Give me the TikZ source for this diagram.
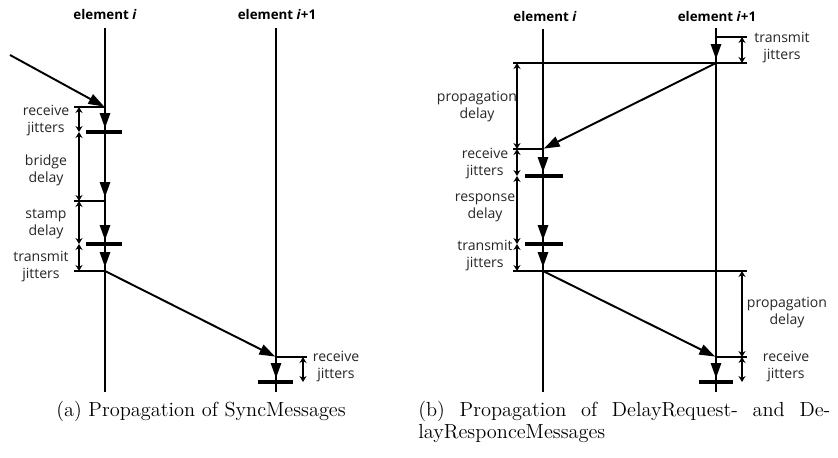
\documentclass[tikz,border=0pt]{standalone}
\usepackage{fontspec}
\newfontfamily\lblfont{Open Sans}
\usetikzlibrary{arrows.meta, positioning}
\tikzset{
  lifeline/.style={line width=1.1pt},
  hop/.style={line width=1.1pt, -{Triangle[length=9pt, width=6pt]}, shorten >=0.5pt},
  seg/.style={line width=1.1pt, -{Triangle[length=8.5pt, width=5.8pt]}, shorten >=2.2pt},
  tickline/.style={line width=0.8pt},
  stampbar/.style={line width=2.3pt},
  dim/.style={line width=0.8pt, {Stealth[length=3.4pt, width=4pt]}-{Stealth[length=3.4pt, width=4pt]}},
  elem/.style={font=\lblfont\bfseries\fontsize{7.6pt}{9pt}\selectfont, inner sep=1pt},
  note/.style={font=\lblfont\fontsize{8pt}{9.7pt}\selectfont, align=center, inner sep=1pt, text=black!85},
  capt/.style={font=\fontsize{11.6pt}{14pt}\selectfont, inner sep=0pt}
}
\begin{document}
\begin{tikzpicture}[x=0.02cm, y=-0.02cm]
\useasboundingbox (0,0) rectangle (838,457);
% ---------- (a) SyncMessages ----------
\node[elem] (ai) at (105,14) {element \textit{i}};
\node[elem] (aj) at (277,14) {element \textit{i}+1};
\coordinate (aiend) at (105,392);
\coordinate (ajend) at (276,392);
\draw[lifeline] (105,28) -- (aiend);
\draw[lifeline] (276,28) -- (ajend);
% events on element i
\coordinate (asrc) at (10,55);
\coordinate (arx) at (105,107);
\coordinate (arxb) at (105,132);
\coordinate (abr) at (105,201);
\coordinate (ast) at (105,244);
\coordinate (atx) at (105,271);
% events on element i+1
\coordinate (brx) at (276,357);
\coordinate (brxb) at (276,382);
\draw[hop] (asrc) -- (arx);
\draw[seg] (arx) -- (arxb);
\draw[seg] (arxb) -- (abr);
\draw[seg] (abr) -- (ast);
\draw[seg] (ast) -- (atx);
\draw[hop] (atx) -- (brx);
\draw[seg] (brx) -- (brxb);
% ticks and bars
\draw[tickline] (arx) -- ++(-31,0);
\draw[tickline] (abr) -- ++(-31,0);
\draw[tickline] (atx) -- ++(-31,0);
\draw[tickline] (brx) -- ++(31,0);
\draw[stampbar] ([xshift=-0.38cm]arxb) -- ([xshift=0.34cm]arxb);
\draw[stampbar] ([xshift=-0.38cm]ast) -- ([xshift=0.34cm]ast);
\draw[stampbar] ([xshift=-0.36cm]brxb) -- ([xshift=0.34cm]brxb);
% dimensions
\draw[dim] (79,107) -- (79,132);
\draw[dim] (79,132) -- (79,201);
\draw[dim] (79,201) -- (79,244);
\draw[dim] (79,244) -- (79,271);
\draw[dim] (303,357) -- (303,382);
\node[note] (arxl) at (46,121) {receive\\jitters};
\node[note] (abrl) at (46,170) {bridge\\delay};
\node[note] (astl) at (46,224) {stamp\\delay};
\node[note] (atxl) at (41,267) {transmit\\jitters};
\node[note] (brxl) at (336,367) {receive\\jitters};
\node[capt] (capa) at (201,411) {(a) Propagation of SyncMessages};
% ---------- (b) DelayRequest / DelayResponce ----------
\node[elem] (bi) at (545,16) {element \textit{i}};
\node[elem] (bj) at (717,16) {element \textit{i}+1};
\coordinate (biend) at (543,392);
\coordinate (bjend) at (716,392);
\draw[lifeline] (543,29) -- (biend);
\draw[lifeline] (716,28) -- (bjend);
% events on element i+1
\coordinate (qtx0) at (716,37);
\coordinate (qtx) at (716,63);
\coordinate (prx) at (716,357);
\coordinate (prxb) at (716,382);
% events on element i
\coordinate (qrx) at (543,149);
\coordinate (qrxb) at (543,176);
\coordinate (pst) at (543,244);
\coordinate (ptx) at (543,271);
\draw[seg] (qtx0) -- (qtx);
\draw[hop] (qtx) -- (qrx);
\draw[seg] (qrx) -- (qrxb);
\draw[seg] (qrxb) -- (pst);
\draw[seg] (pst) -- (ptx);
\draw[hop] (ptx) -- (prx);
\draw[seg] (prx) -- (prxb);
% ticks and bars
\draw[tickline] (qtx0) -- ++(31,0);
\draw[tickline] (513,63) -- (747,63);
\draw[tickline] (qrx) -- ++(-30,0);
\draw[tickline] (513,271) -- (747,271);
\draw[tickline] (prx) -- ++(31,0);
\draw[stampbar] ([xshift=-0.36cm]qrxb) -- ([xshift=0.4cm]qrxb);
\draw[stampbar] ([xshift=-0.36cm]pst) -- ([xshift=0.4cm]pst);
\draw[stampbar] ([xshift=-0.34cm]prxb) -- ([xshift=0.34cm]prxb);
% dimensions
\draw[dim] (742,37) -- (742,63);
\draw[dim] (517,63) -- (517,149);
\draw[dim] (517,149) -- (517,176);
\draw[dim] (517,176) -- (517,244);
\draw[dim] (517,244) -- (517,271);
\draw[dim] (742,271) -- (742,357);
\draw[dim] (742,357) -- (742,382);
\node[note] (qtxl) at (782,48) {transmit\\jitters};
\node[note] (qpdl) at (477,107) {propagation\\delay};
\node[note] (qrxl) at (485,164) {receive\\jitters};
\node[note] (prdl) at (485,208) {response\\delay};
\node[note] (ptxl) at (485,256) {transmit\\jitters};
\node[note] (ppdl) at (787,313) {propagation\\delay};
\node[note] (prxl) at (786,367) {receive\\jitters};
\node[capt, anchor=west, align=left] (capb) at (418,422)
  {\makebox[8.24cm][s]{(b) Propagation of DelayRequest- and De-}\\[-1pt]layResponceMessages};
\end{tikzpicture}
\end{document}
